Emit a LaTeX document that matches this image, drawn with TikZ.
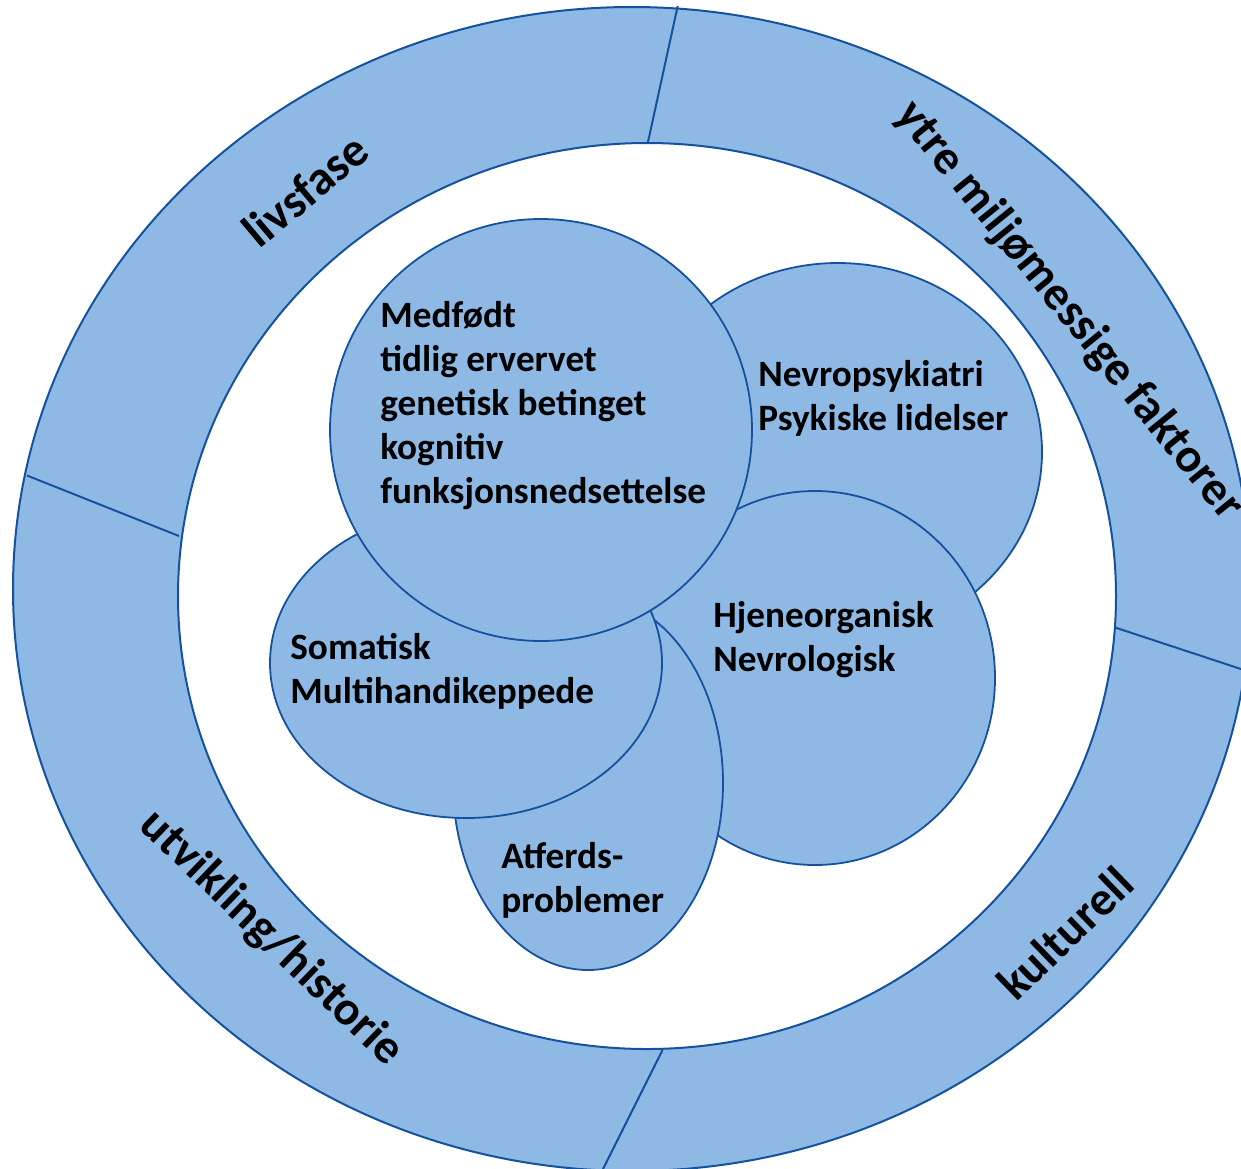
\documentclass[tikz,border=0pt]{standalone}
\usepackage{fontspec}
\setmainfont{Carlito}
\definecolor{ringfill}{RGB}{142,185,229}
\definecolor{ringline}{RGB}{20,82,160}
\begin{document}
\begin{tikzpicture}[x=0.5pt,y=-0.5pt,
  edge/.style={draw=ringline,line width=1pt},
  blob/.style={fill=ringfill,draw=ringline,line width=0.9pt},
  txt/.style={font=\fontsize{18.6}{22}\selectfont\bfseries,align=left,inner sep=0pt,anchor=base west},
  ringtxt/.style={font=\fontsize{24}{28}\selectfont\bfseries,inner sep=0pt}]
\useasboundingbox (0,0) rectangle (1241,1168);
\begin{scope}
\clip (0,0) rectangle (1241,1168);
% ring
\fill[ringfill,even odd rule] (632,589) ellipse [x radius=619,y radius=582]
  (647,596) ellipse [x radius=469,y radius=453];
\draw[edge] (632,589) ellipse [x radius=619,y radius=582];
\draw[edge] (647,596) ellipse [x radius=469,y radius=453];
% dividers
\draw[edge] (677.7,6) -- (647.7,143.3);
\draw[edge] (27,475.5) -- (179,536);
\draw[edge] (1115.7,627.7) -- (1260,675.3);
\draw[edge] (662.5,1050) -- (597.6,1180);
\end{scope}
% inner shapes (back to front)
\filldraw[blob] (838,452) ellipse [x radius=204,y radius=189];
\filldraw[blob] (815,678) ellipse [x radius=180,y radius=187];
\filldraw[blob] (588,783) ellipse [x radius=135,y radius=187];
\filldraw[blob] (466,663) ellipse [x radius=196,y radius=155];
\filldraw[blob] (541,430) circle [radius=211];
% texts (anchored at the baseline of the last line)
\node[txt] (medfodt) at (380,503) {Medfødt\\tidlig ervervet\\genetisk betinget\\kognitiv\\funksjonsnedsettelse};
\node[txt] (nevro) at (758,430) {Nevropsykiatri\\Psykiske lidelser};
\node[txt] (hjerne) at (713,671) {Hjeneorganisk\\Nevrologisk};
\node[txt] (somatisk) at (290,703) {Somatisk\\Multihandikeppede};
\node[txt] (atferd) at (501,912) {Atferds-\\problemer};
% ring labels
\node[ringtxt,rotate=40] (livsfase) at (305,190) {livsfase};
\node[ringtxt,rotate=-51] (ytre) at (1069,311) {ytre miljømessige faktorer};
\node[ringtxt,rotate=-44] (utvikling) at (271,938) {utvikling/historie};
\node[ringtxt,rotate=44] (kulturell) at (1065,933) {kulturell};
\end{tikzpicture}
\end{document}
